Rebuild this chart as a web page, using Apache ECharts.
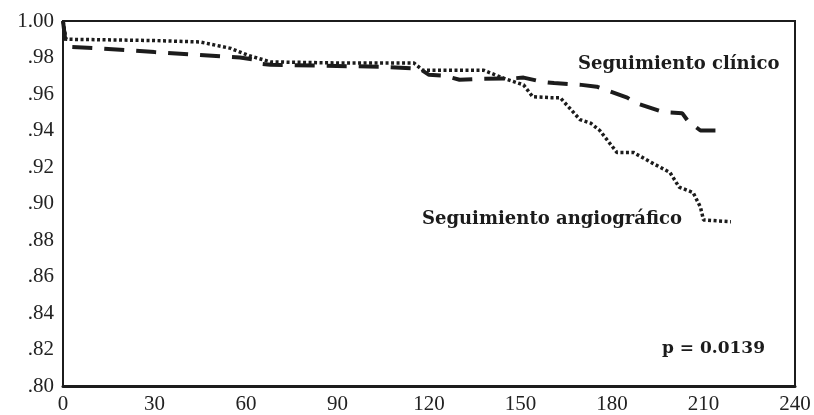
<!DOCTYPE html>
<html>
<head>
<meta charset="utf-8">
<script src="https://cdn.jsdelivr.net/npm/echarts@6/dist/echarts.min.js"></script>
<style>
  html,body{margin:0;padding:0;background:#fff;}
  #chart{width:814px;height:415px;}
</style>
</head>
<body>
<div id="chart"></div>
<script>
  // días de seguimiento / supervivencia libre de eventos
  var xTicks = [0, 30, 60, 90, 120, 150, 180, 210, 240];
  var yTicks = ['.80', '.82', '.84', '.86', '.88', '.90', '.92', '.94', '.96', '.98', '1.00'];

  // Seguimiento clínico (línea discontinua)
  var clinico = [
    [0, 1.000], [1, 0.986], [10, 0.9852], [30, 0.983], [45, 0.9814], [58, 0.980],
    [62, 0.979], [65, 0.9765], [68, 0.976], [105, 0.9749], [117, 0.9738], [120, 0.9705],
    [125, 0.970], [130, 0.9678], [137, 0.9683], [147, 0.9685], [151, 0.969], [157, 0.9667],
    [161, 0.966], [170, 0.965], [175, 0.964], [180, 0.961], [185, 0.958], [188, 0.955],
    [197, 0.950], [203, 0.9495], [205, 0.945], [209, 0.940], [215, 0.940]
  ];

  // Seguimiento angiográfico (línea punteada)
  var angiografico = [
    [0, 1.000], [1, 0.990], [30, 0.9893], [45, 0.9885], [55, 0.985], [61, 0.981],
    [68, 0.9776], [90, 0.977], [115, 0.977], [118, 0.973], [138, 0.973], [144, 0.9689],
    [151, 0.965], [154, 0.9585], [160, 0.958], [163, 0.958], [169.5, 0.946], [173, 0.944],
    [176, 0.940], [181.6, 0.928], [187, 0.928], [193.4, 0.922], [199, 0.917], [202, 0.909],
    [206.6, 0.906], [209, 0.898], [210, 0.891], [219, 0.890]
  ];

  var chart = echarts.init(document.getElementById('chart'));
  var ink = '#1c1c1c';
  var labelFont = {fontFamily: '"Liberation Serif", serif', fontSize: 21, color: '#222'};
  var noteFont = '"DejaVu Serif", serif';

  var option = {
    animation: false,
    grid: {
      left: 63, right: 19, top: 21, bottom: 28,
      show: true, borderColor: ink, borderWidth: 2
    },
    xAxis: {
      type: 'value',
      min: 0, max: 240, interval: 30,
      axisLine: {show: true, lineStyle: {color: ink, width: 3}},
      axisTick: {show: false},
      splitLine: {show: false},
      axisLabel: Object.assign({margin: 8}, labelFont)
    },
    yAxis: {
      type: 'value',
      min: 0.8, max: 1.0, interval: 0.02,
      axisLine: {show: true, lineStyle: {color: ink, width: 2}},
      axisTick: {show: false},
      splitLine: {show: false},
      axisLabel: Object.assign({
        margin: 9,
        formatter: function (v) {
          var i = Math.round((v - 0.8) / 0.02);
          return yTicks[i];
        }
      }, labelFont)
    },
    series: [
      {
        name: 'Seguimiento clínico',
        type: 'line',
        data: clinico,
        symbol: 'none',
        lineStyle: {color: ink, width: 4, type: [20, 12], cap: 'butt'}
      },
      {
        name: 'Seguimiento angiográfico',
        type: 'line',
        data: angiografico,
        symbol: 'none',
        lineStyle: {color: ink, width: 3.5, type: [3, 2.5], cap: 'butt'}
      }
    ],
    graphic: [
      {
        type: 'text', left: 578, top: 55,
        style: {text: 'Seguimiento clínico', fill: ink, font: 'bold 18px ' + noteFont}
      },
      {
        type: 'text', left: 422, top: 210,
        style: {text: 'Seguimiento angiográfico', fill: ink, font: 'bold 18px ' + noteFont}
      },
      {
        type: 'text', left: 662, top: 340,
        style: {text: 'p = 0.0139', fill: ink, font: 'bold 17px ' + noteFont}
      }
    ]
  };
  chart.setOption(option);
</script>
</body>
</html>
